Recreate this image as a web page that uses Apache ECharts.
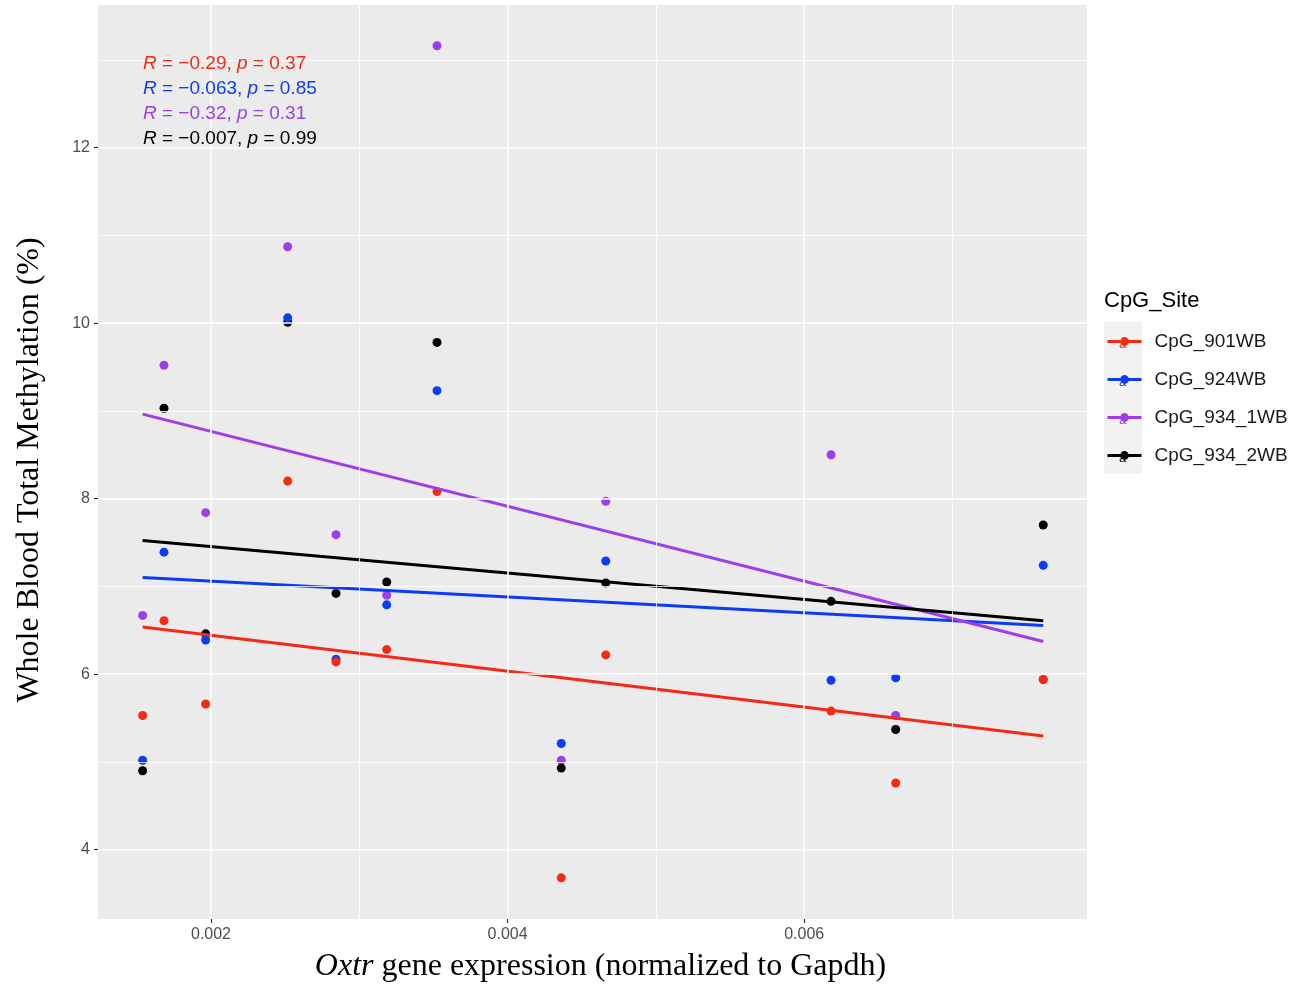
<!DOCTYPE html>
<html>
<head>
<meta charset="utf-8">
<title>Oxtr expression vs whole blood methylation</title>
<script src="https://cdn.jsdelivr.net/npm/echarts@6/dist/echarts.min.js"></script>
<style>
  html, body { margin: 0; padding: 0; background: #ffffff; }
  #chart { width: 1307px; height: 988px; }
</style>
</head>
<body>
<div id="chart"></div>
<script>
// Oxtr gene expression per sample (normalized to Gapdh)
const oxtrExpression = [0.001539, 0.001683, 0.001964, 0.002517, 0.002843, 0.003185,
                        0.003524, 0.004362, 0.004662, 0.006181, 0.006617, 0.007612];

// Whole blood total methylation (%) per CpG site, same sample order
const cpg901WB  = [5.53, 6.61, 5.66, 8.20, 6.14, 6.28, 8.08, 3.68, 6.22, 5.58, 4.76, 5.94];
const cpg924WB  = [5.02, 7.39, 6.39, 10.06, 6.17, 6.79, 9.23, 5.21, 7.29, 5.93, 5.96, 7.24];
const cpg934_1WB = [6.67, 9.52, 7.84, 10.87, 7.59, 6.90, 13.16, 5.02, 7.97, 8.50, 5.53, 5.94];
const cpg934_2WB = [4.90, 9.03, 6.46, 10.01, 6.92, 7.05, 9.78, 4.93, 7.04, 6.83, 5.37, 7.70];

const siteNames = ['CpG_901WB', 'CpG_924WB', 'CpG_934_1WB', 'CpG_934_2WB'];
const siteValues = [cpg901WB, cpg924WB, cpg934_1WB, cpg934_2WB];
const siteColors = ['#F42A14', '#0D3CF6', '#9E3DEB', '#000000'];

// Pearson correlation summaries per site
const corrR = ['\u22120.29', '\u22120.063', '\u22120.32', '\u22120.007'];
const corrP = ['0.37', '0.85', '0.31', '0.99'];

// Axis ranges and ticks
const xRange = [0.001238, 0.007907];
const yRange = [3.211, 13.624];
const xMajorTicks = [0.002, 0.004, 0.006];
const xMinorTicks = [0.003, 0.005, 0.007];
const yMajorTicks = [4, 6, 8, 10, 12];
const yMinorTicks = [5, 7, 9, 11, 13];

// Ordinary least squares fit, drawn over the observed x range
function linearFit(xs, ys) {
  const n = xs.length;
  let mx = 0, my = 0;
  for (let i = 0; i < n; i++) { mx += xs[i]; my += ys[i]; }
  mx /= n; my /= n;
  let sxy = 0, sxx = 0;
  for (let i = 0; i < n; i++) {
    sxy += (xs[i] - mx) * (ys[i] - my);
    sxx += (xs[i] - mx) * (xs[i] - mx);
  }
  const b = sxy / sxx, a = my - b * mx;
  const x0 = Math.min.apply(null, xs), x1 = Math.max.apply(null, xs);
  return [[x0, a + b * x0], [x1, a + b * x1]];
}

const pairs = vals => oxtrExpression.map((x, i) => [x, vals[i]]);

const sans = 'Liberation Sans, Arial, sans-serif';
const serif = 'Liberation Serif, Times New Roman, serif';

// Panel grid lines (major and minor), spanning the whole panel
const vLine = (v, w) => [{ coord: [v, yRange[0]], lineStyle: { width: w } }, { coord: [v, yRange[1]] }];
const hLine = (v, w) => [{ coord: [xRange[0], v], lineStyle: { width: w } }, { coord: [xRange[1], v] }];
const gridLineData = []
  .concat(xMinorTicks.map(v => vLine(v, 0.8)))
  .concat(yMinorTicks.map(v => hLine(v, 0.8)))
  .concat(xMajorTicks.map(v => vLine(v, 1.6)))
  .concat(yMajorTicks.map(v => hLine(v, 1.6)));

const series = [{
  type: 'line',
  name: '__grid',
  data: [],
  z: 1,
  silent: true,
  markLine: {
    silent: true,
    symbol: ['none', 'none'],
    label: { show: false },
    lineStyle: { color: '#ffffff', type: 'solid', opacity: 1 },
    emphasis: { disabled: true },
    animation: false,
    data: gridLineData
  }
}];

// Regression lines (listed first so the legend shows a line key)
siteNames.forEach((name, k) => {
  series.push({
    type: 'line',
    name: name,
    data: linearFit(oxtrExpression, siteValues[k]),
    z: 4 + k * 0.01,
    symbol: 'circle',
    symbolSize: 9,
    showSymbol: false,
    color: siteColors[k],
    lineStyle: { width: 3, color: siteColors[k] },
    itemStyle: { color: siteColors[k] },
    emphasis: { disabled: true }
  });
});

// Points, stacked purple, black, blue, red from bottom to top
[2, 3, 1, 0].forEach(k => {
  series.push({
    type: 'scatter',
    name: siteNames[k],
    data: pairs(siteValues[k]),
    z: 3,
    symbol: 'circle',
    symbolSize: 9,
    itemStyle: { color: siteColors[k], opacity: 1 },
    emphasis: { disabled: true }
  });
});

// Correlation annotation as rich text
const richStyles = {};
const corrLines = siteNames.map((name, k) => {
  richStyles['n' + k] = { color: siteColors[k], fontFamily: sans, fontSize: 19, fontWeight: 'normal', lineHeight: 25 };
  richStyles['i' + k] = { color: siteColors[k], fontFamily: sans, fontSize: 19, fontWeight: 'normal', lineHeight: 25, fontStyle: 'italic' };
  return '{i' + k + '|R}{n' + k + '| = ' + corrR[k] + ', }{i' + k + '|p}{n' + k + '| = ' + corrP[k] + '}';
});

// Legend key decorations: the text-layer glyph sitting under each key
const legendKeyGlyphs = siteColors.map((c, k) => ({
  type: 'text',
  left: 1119, top: 338 + k * 38,
  z: 100,
  zlevel: 0,
  style: { text: 'a', fill: c, font: '13px ' + sans }
}));

const chart = echarts.init(document.getElementById('chart'), null, { renderer: 'canvas' });
chart.setOption({
  animation: false,
  backgroundColor: '#ffffff',
  grid: {
    left: 98, right: 220, top: 5, bottom: 68,
    show: true, backgroundColor: '#EBEBEB', borderWidth: 0
  },
  title: [{
    text: corrLines.join('\n'),
    left: 143, top: 51, padding: 0,
    textStyle: { rich: richStyles, fontSize: 19, fontWeight: 'normal', lineHeight: 25 }
  }, {
    text: 'CpG_Site',
    left: 1104, top: 290, padding: 0,
    textStyle: { fontFamily: sans, fontSize: 22, fontWeight: 'normal', color: '#000000' }
  }],
  graphic: [{
    type: 'rect',
    left: 1104, top: 322,
    shape: { width: 38, height: 152 },
    style: { fill: '#F2F2F2' },
    z: -1
  }].concat(legendKeyGlyphs),
  legend: {
    data: siteNames,
    orient: 'vertical',
    left: 1106, top: 332,
    padding: 0,
    itemWidth: 34,
    itemHeight: 11,
    itemGap: 19,
    selectedMode: false,
    lineStyle: { width: 3 },
    z: 5,
    textStyle: { fontFamily: sans, fontSize: 19, color: '#1a1a1a', padding: [0, 0, 0, 8] }
  },
  xAxis: {
    type: 'value',
    min: xRange[0],
    max: xRange[1],
    name: '{i|Oxtr}{n| gene expression (normalized to Gapdh)}',
    nameLocation: 'middle',
    nameGap: 32,
    nameTextStyle: {
      padding: [0, 0, 0, 16],
      rich: {
        i: { fontFamily: serif, fontSize: 32, fontStyle: 'italic', color: '#000' },
        n: { fontFamily: serif, fontSize: 32, color: '#000' }
      }
    },
    axisLine: { show: false },
    axisTick: { show: true, length: 4, lineStyle: { color: '#333333', width: 1.2 }, customValues: xMajorTicks },
    axisLabel: { show: true, margin: 8, color: '#4D4D4D', fontFamily: sans, fontSize: 16, customValues: xMajorTicks,
                 formatter: v => v.toFixed(3) },
    splitLine: { show: false }
  },
  yAxis: {
    type: 'value',
    min: yRange[0],
    max: yRange[1],
    name: 'Whole Blood Total Methylation (%)',
    nameLocation: 'middle',
    nameGap: 52,
    nameTextStyle: { fontFamily: serif, fontSize: 32, color: '#000', padding: [0, 16, 0, 0] },
    axisLine: { show: false },
    axisTick: { show: true, length: 4, lineStyle: { color: '#333333', width: 1.2 }, customValues: yMajorTicks },
    axisLabel: { show: true, margin: 8, color: '#4D4D4D', fontFamily: sans, fontSize: 16, customValues: yMajorTicks },
    splitLine: { show: false }
  },
  series: series
});
</script>
</body>
</html>
